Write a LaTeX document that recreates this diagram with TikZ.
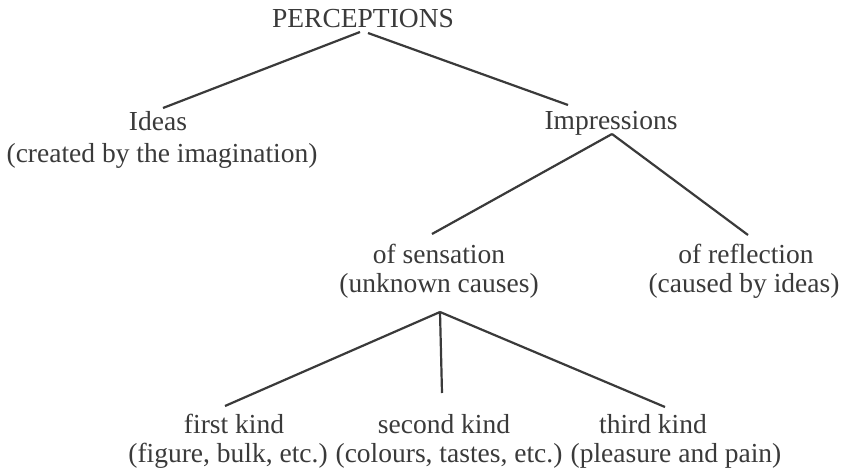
\documentclass[tikz,border=0pt]{standalone}
\usepackage{fontspec}
\setmainfont{Liberation Serif}
\definecolor{ink}{HTML}{3A3A3A}
\begin{document}
\begin{tikzpicture}[x=1pt,y=-1pt,
  lbl/.style={anchor=base,inner sep=0pt,text=ink,font=\fontsize{27.5}{31}\selectfont},
  conn/.style={draw=ink,line width=2.2pt}]
\useasboundingbox (0,0) rectangle (843,476);
\fill[white] (0,0) rectangle (843,476);
% labels
\node[lbl] (perc) at (363,28) {PERCEPTIONS};
\node[lbl] (ideas) at (158,131) {Ideas};
\node[lbl] (ideasb) at (162,162) {(created by the imagination)};
\node[lbl] (impr) at (611,129) {Impressions};
\node[lbl] (sens) at (439,263) {of sensation};
\node[lbl] (sensb) at (439,292) {(unknown causes)};
\node[lbl] (refl) at (746,263) {of reflection};
\node[lbl] (reflb) at (744,292) {(caused by ideas)};
\node[lbl] (first) at (234,433) {first kind};
\node[lbl] (second) at (444,433) {second kind};
\node[lbl] (third) at (653,433) {third kind};
\node[lbl] (firstb) at (228,462) {(figure, bulk, etc.)};
\node[lbl] (secondb) at (449,462) {(colours, tastes, etc.)};
\node[lbl] (thirdb) at (676,462) {(pleasure and pain)};
% connector end points
\coordinate (percL) at (360,32);
\coordinate (percR) at (368,33);
\coordinate (ideasT) at (163,108);
\coordinate (imprT) at (568,105);
\coordinate (imprB) at (612,134);
\coordinate (sensT) at (432,234);
\coordinate (reflT) at (748,235);
\coordinate (sensB) at (440,312);
\coordinate (firstT) at (225,406);
\coordinate (secondT) at (442,393);
\coordinate (thirdT) at (665,407);
% connectors
\draw[conn] (percL) -- (ideasT);
\draw[conn] (percR) -- (imprT);
\draw[conn] (imprB) -- (sensT);
\draw[conn] (imprB) -- (reflT);
\draw[conn] (sensB) -- (firstT);
\draw[conn] (sensB) -- (secondT);
\draw[conn] (sensB) -- (thirdT);
\end{tikzpicture}
\end{document}
